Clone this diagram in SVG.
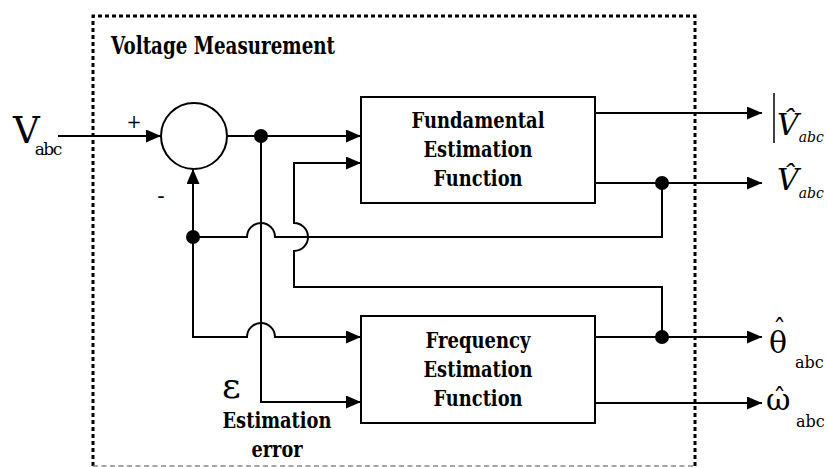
<svg xmlns="http://www.w3.org/2000/svg" width="827" height="468" viewBox="0 0 827 468" font-family="'DejaVu Serif', 'Liberation Serif', serif">
<style>
.ln{fill:none;stroke:#000;stroke-width:2}
.blk{fill:#fff;stroke:#000;stroke-width:2}
.dot{fill:#000}
.bt{font-family:'DejaVu Serif','Liberation Serif',serif;font-weight:bold;font-size:22px;text-anchor:middle;fill:#000}
.sr{font-family:'DejaVu Serif','Liberation Serif',serif;fill:#000}
</style>
<defs>
<marker id="ah" markerWidth="15" markerHeight="13" refX="15" refY="6.5" orient="auto" markerUnits="userSpaceOnUse">
<path d="M0,0 L15,6.5 L0,13 Z" fill="#000"/>
</marker>
</defs>
<rect width="827" height="468" fill="#fff"/>
<g id="boundary">
<path d="M93,466 V16 H695 V466" fill="none" stroke="#000" stroke-width="3" stroke-dasharray="4 3"/>
<path d="M93,466 H695" fill="none" stroke="#888" stroke-width="1.5" stroke-dasharray="5 3.5"/>
<text x="111" y="54" class="sr" font-weight="bold" font-size="24" textLength="224" lengthAdjust="spacingAndGlyphs">Voltage Measurement</text>
</g>
<g id="connectors">
<path class="ln" d="M58,136 H161" marker-end="url(#ah)"/>
<path class="ln" d="M227,136 H361" marker-end="url(#ah)"/>
<path class="ln" d="M261,136 V402 H361" marker-end="url(#ah)"/>
<path class="ln" d="M193,237 V169" marker-end="url(#ah)"/>
<path class="ln" d="M662,183 V237 H275 A14,14 0 0 0 247,237 H193 V337 H247 A14,14 0 0 1 275,337 H361" marker-end="url(#ah)"/>
<path class="ln" d="M662,337 V287 H294 V251 A14,14 0 0 0 294,223 V163 H361" marker-end="url(#ah)"/>
<path class="ln" d="M595,113 H762" marker-end="url(#ah)"/>
<path class="ln" d="M595,183 H762" marker-end="url(#ah)"/>
<path class="ln" d="M595,337 H762" marker-end="url(#ah)"/>
<path class="ln" d="M595,403 H762" marker-end="url(#ah)"/>
<circle class="dot" cx="261" cy="136" r="7"/>
<circle class="dot" cx="193" cy="237" r="7"/>
<circle class="dot" cx="662" cy="183" r="7"/>
<circle class="dot" cx="662" cy="337" r="7"/>
</g>
<g id="input">
<text x="13" y="143" class="sr" font-size="37">V<tspan font-size="17" dx="-5" dy="12" letter-spacing="-1.5">abc</tspan></text>
</g>
<g id="sum">
<circle cx="194" cy="136" r="33" fill="#fff" stroke="#000" stroke-width="2"/>
<text x="134" y="128" class="sr" font-size="18" text-anchor="middle">+</text>
<text x="161" y="203" class="sr" font-size="22" text-anchor="middle">-</text>
</g>
<g id="fundamental">
<rect class="blk" x="361" y="97" width="234" height="106"/>
<text x="478" y="128" class="bt" textLength="133" lengthAdjust="spacingAndGlyphs">Fundamental</text>
<text x="478" y="157" class="bt" textLength="109" lengthAdjust="spacingAndGlyphs">Estimation</text>
<text x="478" y="186" class="bt" textLength="89" lengthAdjust="spacingAndGlyphs">Function</text>
</g>
<g id="frequency">
<rect class="blk" x="361" y="316" width="234" height="107"/>
<text x="478" y="348" class="bt" textLength="105" lengthAdjust="spacingAndGlyphs">Frequency</text>
<text x="478" y="377" class="bt" textLength="109" lengthAdjust="spacingAndGlyphs">Estimation</text>
<text x="478" y="406" class="bt" textLength="89" lengthAdjust="spacingAndGlyphs">Function</text>
</g>
<g id="error">
<text x="222" y="398" class="sr" font-size="36">ε</text>
<text x="277" y="428" class="bt" textLength="109" lengthAdjust="spacingAndGlyphs">Estimation</text>
<text x="277" y="457" class="bt" textLength="51" lengthAdjust="spacingAndGlyphs">error</text>
</g>
<g id="out-mag">
<line x1="774" y1="93" x2="774" y2="143" stroke="#000" stroke-width="1.5"/>
<text x="777" y="135" class="sr" font-size="30" font-style="italic">V&#770;<tspan font-size="14" dy="7">abc</tspan></text>
</g>
<g id="out-v">
<text x="777" y="190" class="sr" font-size="30" font-style="italic">V&#770;<tspan font-size="14" dy="8">abc</tspan></text>
</g>
<g id="out-theta">
<text class="sr"><tspan x="769" y="353" font-size="30">θ</tspan><tspan x="773" y="338" font-size="26">ˆ</tspan><tspan x="795" y="368" font-size="16">abc</tspan></text>
</g>
<g id="out-omega">
<text class="sr"><tspan x="766" y="410" font-size="30">ω</tspan><tspan x="773" y="407" font-size="26">ˆ</tspan><tspan x="796" y="427" font-size="16">abc</tspan></text>
</g>
</svg>
